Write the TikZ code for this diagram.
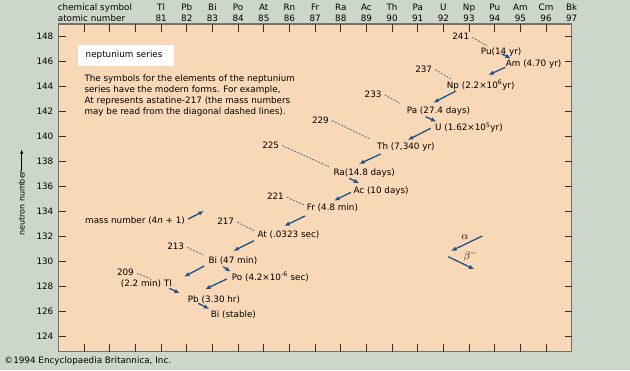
\documentclass[tikz,border=0pt]{standalone}
\usepackage{fontspec}
\setmainfont{DejaVu Sans}
\usetikzlibrary{calc, arrows.meta}

\definecolor{outerbg}{RGB}{204,214,202}
\definecolor{peach}{RGB}{248,216,183}
\definecolor{decayblue}{RGB}{28,84,138}
\definecolor{dashblue}{RGB}{80,115,150}
\definecolor{framegray}{RGB}{115,115,105}

\begin{document}
\begin{tikzpicture}[x=1pt, y=-1pt,
    every node/.style={font=\fontsize{8.8}{11}\selectfont, inner sep=0pt},
    nuclide/.style={anchor=base west, text height=6.4pt, text depth=1.6pt},
    massno/.style={anchor=base east},
    decay/.style={draw=decayblue, line width=1.3pt, -{Latex[length=5.5pt,width=4.5pt]}},
    massline/.style={draw=dashblue, line width=0.8pt, dash pattern=on 2pt off 1.3pt},
    axistick/.style={draw=black!80, line width=0.8pt},
    axislabel/.style={text height=6.4pt, text depth=0pt},
    legendsym/.style={font=\fontsize{11}{13}\selectfont}]

    % --- Hintergrund und Diagrammfeld ---
    \fill[outerbg] (0,0) rectangle (630,370);
    \fill[peach] (58.5,24) rectangle (571.7,351.7);
    \draw[framegray, line width=1.2pt] (58.5,24) rectangle (571.7,351.7);

    % --- Achsen: Ordnungszahl oben, Neutronenzahl links ---
    \foreach \z in {78,...,96} {
        \pgfmathsetmacro{\px}{58.5+(\z-77)*25.66}
        \draw[axistick] (\px,24) -- (\px,31.5);
        \draw[axistick] (\px,351.7) -- (\px,344);
    }
    \foreach \n in {124,126,...,148} {
        \pgfmathsetmacro{\py}{36+(148-\n)*12.5}
        \draw[axistick] (58.5,\py) -- (66,\py);
        \draw[axistick] (565,\py) -- (571.7,\py);
        \node[axislabel, anchor=east] (n-\n) at (53.5,\py) {\n};
    }
    \foreach \sym [count=\z from 81] in {Tl,Pb,Bi,Po,At,Rn,Fr,Ra,Ac,Th,Pa,U,Np,Pu,Am,Cm,Bk} {
        \pgfmathsetmacro{\px}{58.5+(\z-77)*25.66}
        \node[axislabel] (sym-\z) at (\px,7.7) {\sym};
        \node[axislabel] (z-\z) at (\px,18.7) {\z};
    }
    \node[axislabel, anchor=west] (symhead) at (57.7,7.7) {chemical symbol};
    \node[axislabel, anchor=west] (zhead) at (57.7,18.7) {atomic number};

    \node[rotate=90, anchor=west, font=\fontsize{8}{10}\selectfont] (nlabel) at (21.7,236) {neutron number};
    \coordinate (ntip) at ($(nlabel.east)+(0,-21)$);
    \draw[line width=0.6pt, -{Latex[length=4pt,width=3pt]}] (nlabel.east) -- (ntip);

    % --- Titel und Erlaeuterung ---
    \node[fill=white, anchor=north west, text width=80pt, inner xsep=8.2pt,
          minimum height=20.7pt] (title) at (77.3,45) {neptunium series};
    \node[anchor=north west, align=left] (note) at (84.3,74.5)
        {The symbols for the elements of the neptunium\\
         series have the modern forms. For example,\\
         At represents astatine-217 (the mass numbers\\
         may be read from the diagonal dashed lines).};

    % --- Nuklide der Zerfallsreihe ---
    \node[nuclide] (pu241) at (480.7,54.2) {Pu(14 yr)};
    \node[nuclide] (am241) at (505.7,66.5) {Am (4.70 yr)};
    \node[nuclide] (np237) at (446.7,88.5) {Np (2.2×10\textsuperscript{6}yr)};
    \node[nuclide] (pa233) at (406.7,113.9) {Pa (27.4 days)};
    \node[nuclide] (u233) at (435,130.9) {U (1.62×10\textsuperscript{5}yr)};
    \node[nuclide] (th229) at (377,149.9) {Th (7,340 yr)};
    \node[nuclide] (ra225) at (333.3,175.9) {Ra(14.8 days)};
    \node[nuclide] (ac225) at (353.3,193.9) {Ac (10 days)};
    \node[nuclide] (fr221) at (306.7,210.9) {Fr (4.8 min)};
    \node[nuclide] (at217) at (257.3,237.5) {At (.0323 sec)};
    \node[nuclide] (bi213) at (208.3,263.2) {Bi (47 min)};
    \node[nuclide] (po213) at (231.7,280.2) {Po (4.2×10\textsuperscript{-6} sec)};
    \node[nuclide] (tl209) at (120.7,286.5) {(2.2 min) Tl};
    \node[nuclide] (pb209) at (187.7,302.2) {Pb (3.30 hr)};
    \node[nuclide] (bi209) at (210.7,317.5) {Bi (stable)};

    % --- Massenzahlen mit gestrichelten Diagonalen ---
    \node[massno] (m241) at (469.3,39.9) {241};
    \node[massno] (m237) at (432.3,72.2) {237};
    \node[massno] (m233) at (381.7,97.5) {233};
    \node[massno] (m229) at (329,123.2) {229};
    \node[massno] (m225) at (279.3,148.2) {225};
    \node[massno] (m221) at (284,199.9) {221};
    \node[massno] (m217) at (234.3,224.9) {217};
    \node[massno] (m213) at (184.3,249.9) {213};
    \node[massno] (m209) at (134,275.9) {209};
    \foreach \m/\nuc/\dx/\dy in {241/pu241/6.6/-8.2, 237/np237/4/-9.5, 233/pa233/-6.7/-10.6,
                                 229/th229/-7/-10.9, 225/ra225/-4.3/-9.2, 221/fr221/-2.7/-5.9,
                                 217/at217/-2.3/-6.5, 213/bi213/-5/-8.2, 209/tl209/29.3/-8.2}
        \draw[massline] ($(m\m.base east)+(3,-2.6)$) -- ($(\nuc.base west)+(\dx,\dy)$);

    % --- Zerfaelle ---
    \foreach \a/\ax/\ay/\b/\bx/\by in {pu241/21/-0.2/am241/5.3/-8.2,
                                       am241/-0.4/0.8/np237/41.6/-13.5,
                                       np237/9.3/2.5/pa233/26.6/-11.2,
                                       pa233/19/2.8/u233/1.5/-9.2,
                                       u233/-4.3/-2.6/th229/30.7/-9.9,
                                       th229/3.7/4.1/ra225/25.7/-11.9,
                                       ra225/16/2.4/ac225/6/-10.6,
                                       ac225/-2.3/-1.6/fr221/27.3/-10.2,
                                       fr221/-1.7/5.1/at217/27/-11.5,
                                       at217/-3.3/3.2/bi213/25/-12.2,
                                       bi213/-4/2.8/tl209/63.3/-9.8,
                                       bi213/15/3.5/po213/-1/-8.5,
                                       po213/-5/-1.2/pb209/17.3/-12.9,
                                       tl209/48.6/1.8/pb209/-7.7/-8.9,
                                       pb209/10.6/1.1/bi209/-1.4/-8.5}
        \draw[decay] ($(\a.base west)+(\ax,\ay)$) -- ($(\b.base west)+(\bx,\by)$);

    % --- Massenzahl-Hinweis und Legende ---
    \node[anchor=west] (massformula) at (85,221) {mass number (4\textit{n} + 1)};
    \coordinate (masstip) at (204,211);
    \draw[decay] ($(massformula.east)+(3,-2)$) -- (masstip);

    \node[legendsym] (alphalabel) at (465,237.3) {$\alpha$};
    \node[legendsym] (betalabel) at (470.5,256.5) {$\beta^-$};
    \coordinate (alpha-a) at (482.3,236);
    \coordinate (alpha-b) at (451,251);
    \coordinate (beta-a) at (448.3,256.7);
    \coordinate (beta-b) at (474.3,269.3);
    \draw[decay] (alpha-a) -- (alpha-b);
    \draw[decay] (beta-a) -- (beta-b);

    \node[anchor=west] (credit) at (4.3,360.7) {©1994 Encyclopaedia Britannica, Inc.};
\end{tikzpicture}
\end{document}
